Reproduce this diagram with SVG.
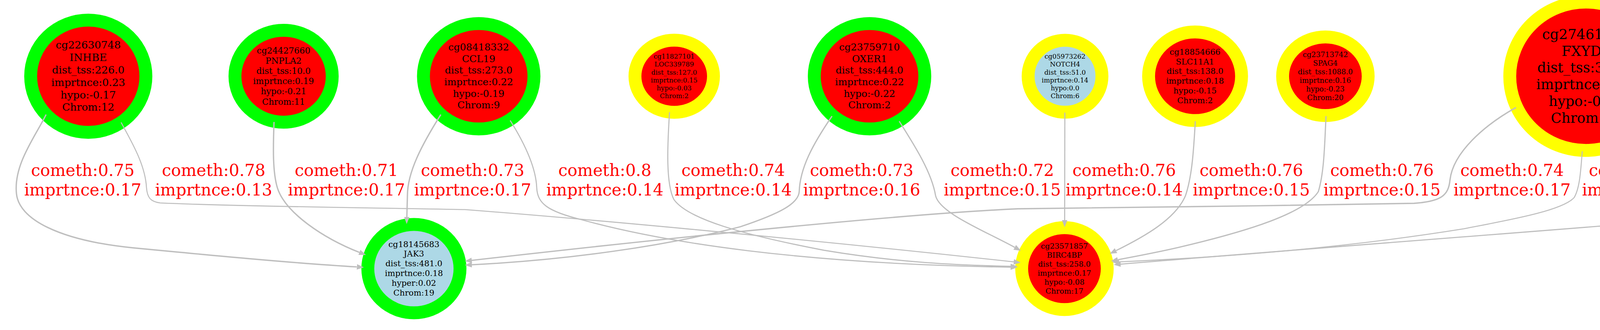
<svg xmlns="http://www.w3.org/2000/svg" width="5354" height="844" viewBox="0 0 5354 844">
<style>
.bg{fill:#ffffff}
.g{stroke:#00ff00;stroke-width:33}
.y{stroke:#ffff00;stroke-width:33}
.r{fill:#ff0000}
.b{fill:#add8e6}
.nt{font-family:"DejaVu Serif","Liberation Serif",serif;text-anchor:middle;fill:#000000}
.e{fill:none;stroke:#bebebe;marker-end:url(#arr)}
.el{font-family:"DejaVu Serif","Liberation Serif",serif;font-size:42px;text-anchor:middle;fill:#ff0000}
</style>
<defs>
<marker id="arr" markerUnits="userSpaceOnUse" viewBox="0 0 18 14" markerWidth="18" markerHeight="14" refX="0" refY="7" orient="auto">
<path d="M0,0 L18,7 L0,14 z" fill="#bebebe"/>
</marker>
</defs>
<rect class="bg" x="0" y="0" width="5354" height="844"/>
<g id="nodes">
<g id="cg22630748">
<ellipse class="g r" cx="226" cy="195" rx="147.5" ry="143.5"/>
<text class="nt" font-size="26.5"><tspan x="226" y="124.3">cg22630748</tspan><tspan x="226" y="156.1">INHBE</tspan><tspan x="226" y="187.9">dist_tss:226.0</tspan><tspan x="226" y="219.7">imprtnce:0.23</tspan><tspan x="226" y="251.5">hypo:-0.17</tspan><tspan x="226" y="283.3">Chrom:12</tspan></text>
</g>
<g id="cg24427660">
<ellipse class="g r" cx="726" cy="195" rx="124.5" ry="117.5"/>
<text class="nt" font-size="21.8"><tspan x="726" y="136.8">cg24427660</tspan><tspan x="726" y="163">PNPLA2</tspan><tspan x="726" y="189.1">dist_tss:10.0</tspan><tspan x="726" y="215.3">imprtnce:0.19</tspan><tspan x="726" y="241.4">hypo:-0.21</tspan><tspan x="726" y="267.6">Chrom:11</tspan></text>
</g>
<g id="cg08418332">
<ellipse class="g r" cx="1225.5" cy="195" rx="141.5" ry="134.8"/>
<text class="nt" font-size="24.7"><tspan x="1225.5" y="129.1">cg08418332</tspan><tspan x="1225.5" y="158.7">CCL19</tspan><tspan x="1225.5" y="188.3">dist_tss:273.0</tspan><tspan x="1225.5" y="218">imprtnce:0.22</tspan><tspan x="1225.5" y="247.6">hypo:-0.19</tspan><tspan x="1225.5" y="277.3">Chrom:9</tspan></text>
</g>
<g id="cg11827101">
<ellipse class="y r" cx="1726" cy="195" rx="100.5" ry="92.3"/>
<text class="nt" font-size="16.7"><tspan x="1726" y="150.4">cg11827101</tspan><tspan x="1726" y="170.4">LOC339789</tspan><tspan x="1726" y="190.5">dist_tss:127.0</tspan><tspan x="1726" y="210.5">imprtnce:0.15</tspan><tspan x="1726" y="230.6">hypo:-0.03</tspan><tspan x="1726" y="250.6">Chrom:2</tspan></text>
</g>
<g id="cg23759710">
<ellipse class="g r" cx="2226" cy="195" rx="141.5" ry="134.8"/>
<text class="nt" font-size="24.7"><tspan x="2226" y="129.1">cg23759710</tspan><tspan x="2226" y="158.7">OXER1</tspan><tspan x="2226" y="188.3">dist_tss:444.0</tspan><tspan x="2226" y="218">imprtnce:0.22</tspan><tspan x="2226" y="247.6">hypo:-0.22</tspan><tspan x="2226" y="277.3">Chrom:2</tspan></text>
</g>
<g id="cg05973262">
<ellipse class="y b" cx="2726.5" cy="195" rx="94.5" ry="92"/>
<text class="nt" font-size="16.7"><tspan x="2726.5" y="150.4">cg05973262</tspan><tspan x="2726.5" y="170.4">NOTCH4</tspan><tspan x="2726.5" y="190.5">dist_tss:51.0</tspan><tspan x="2726.5" y="210.5">imprtnce:0.14</tspan><tspan x="2726.5" y="230.6">hypo:0.0</tspan><tspan x="2726.5" y="250.6">Chrom:6</tspan></text>
</g>
<g id="cg18854666">
<ellipse class="y r" cx="3059.4" cy="195" rx="119" ry="113.3"/>
<text class="nt" font-size="20.7"><tspan x="3059.4" y="139.7">cg18854666</tspan><tspan x="3059.4" y="164.6">SLC11A1</tspan><tspan x="3059.4" y="189.4">dist_tss:138.0</tspan><tspan x="3059.4" y="214.3">imprtnce:0.18</tspan><tspan x="3059.4" y="239.1">hypo:-0.15</tspan><tspan x="3059.4" y="263.9">Chrom:2</tspan></text>
</g>
<g id="cg23713742">
<ellipse class="y r" cx="3393" cy="195" rx="109.5" ry="100.5"/>
<text class="nt" font-size="18.4"><tspan x="3393" y="145.9">cg23713742</tspan><tspan x="3393" y="168">SPAG4</tspan><tspan x="3393" y="190">dist_tss:1088.0</tspan><tspan x="3393" y="212.1">imprtnce:0.16</tspan><tspan x="3393" y="234.2">hypo:-0.23</tspan><tspan x="3393" y="256.3">Chrom:20</tspan></text>
</g>
<g id="cg27461196">
<ellipse class="y r" cx="4060" cy="195" rx="195" ry="189.7"/>
<text class="nt" font-size="35.6"><tspan x="4060" y="100">cg27461196</tspan><tspan x="4060" y="142.7">FXYD1</tspan><tspan x="4060" y="185.4">dist_tss:374.0</tspan><tspan x="4060" y="228.1">imprtnce:0.32</tspan><tspan x="4060" y="270.8">hypo:-0.13</tspan><tspan x="4060" y="313.6">Chrom:19</tspan></text>
</g>
<g id="cg09076584">
<ellipse class="y b" cx="4895" cy="195" rx="196.4" ry="189.7"/>
<text class="nt" font-size="35.6"><tspan x="4895" y="100">cg09076584</tspan><tspan x="4895" y="142.7">FLJ25006</tspan><tspan x="4895" y="185.4">dist_tss:42.0</tspan><tspan x="4895" y="228.1">imprtnce:0.31</tspan><tspan x="4895" y="270.8">hyper:0.14</tspan><tspan x="4895" y="313.6">Chrom:17</tspan></text>
</g>
<g id="cg18145683">
<ellipse class="g b" cx="1059.6" cy="687" rx="118" ry="113"/>
<text class="nt" font-size="20.8"><tspan x="1059.6" y="631.5">cg18145683</tspan><tspan x="1059.6" y="656.4">JAK3</tspan><tspan x="1059.6" y="681.4">dist_tss:481.0</tspan><tspan x="1059.6" y="706.3">imprtnce:0.18</tspan><tspan x="1059.6" y="731.3">hyper:0.02</tspan><tspan x="1059.6" y="756.3">Chrom:19</tspan></text>
</g>
<g id="cg23571857">
<ellipse class="y r" cx="2725" cy="687" rx="109.5" ry="104.8"/>
<text class="nt" font-size="19.2"><tspan x="2725" y="635.7">cg23571857</tspan><tspan x="2725" y="658.8">BIRC4BP</tspan><tspan x="2725" y="681.8">dist_tss:258.0</tspan><tspan x="2725" y="704.9">imprtnce:0.17</tspan><tspan x="2725" y="727.9">hypo:-0.08</tspan><tspan x="2725" y="750.9">Chrom:17</tspan></text>
</g>
<g id="cg20516209">
<ellipse class="y b" cx="4725.5" cy="687" rx="156.7" ry="151.8"/>
<text class="nt" font-size="28.3"><tspan x="4725.5" y="611.4">cg20516209</tspan><tspan x="4725.5" y="645.4">EMILIN1</tspan><tspan x="4725.5" y="679.4">dist_tss:9.0</tspan><tspan x="4725.5" y="713.3">imprtnce:0.25</tspan><tspan x="4725.5" y="747.3">hyper:0.05</tspan><tspan x="4725.5" y="781.2">Chrom:2</tspan></text>
</g>
</g>
<g id="connectors">
<path class="e" stroke-width="3.4" d="M118,293 C90,350 35,420 42,494 C47,560 150,615 342,634 C530,652 750,673 913.6,682.6"/>
<text class="el"><tspan x="212" y="450">cometh:0.75</tspan><tspan x="212" y="500">imprtnce:0.17</tspan></text>
<path class="e" stroke-width="2.6" d="M310,313 C335,360 372,420 375,480 C377,505 385,516 410,519 C600,528 1000,532 1190,536 C1450,556 2000,605 2595,669.7"/>
<text class="el"><tspan x="547" y="450">cometh:0.78</tspan><tspan x="547" y="500">imprtnce:0.13</tspan></text>
<path class="e" stroke-width="3.4" d="M701.5,312 C699,380 698,440 710,480 C730,545 830,610 920,645.5"/>
<text class="el"><tspan x="887" y="450">cometh:0.71</tspan><tspan x="887" y="500">imprtnce:0.17</tspan></text>
<path class="e" stroke-width="3.4" d="M1128.5,293 C1080,370 1043,440 1043,500 L1041.5,555"/>
<text class="el"><tspan x="1210" y="450">cometh:0.73</tspan><tspan x="1210" y="500">imprtnce:0.17</tspan></text>
<path class="e" stroke-width="2.8" d="M1306,308 C1345,370 1372,430 1374,480 C1376,520 1400,540 1489,562 C1700,620 2050,675 2587,683.3"/>
<text class="el"><tspan x="1548.5" y="450">cometh:0.8</tspan><tspan x="1548.5" y="500">imprtnce:0.14</tspan></text>
<path class="e" stroke-width="2.8" d="M1714,287 C1708,380 1705,470 1725,510 C1760,560 1900,600 2109,640 C2300,672 2450,678 2587,681.2"/>
<text class="el"><tspan x="1877" y="450">cometh:0.74</tspan><tspan x="1877" y="500">imprtnce:0.14</tspan></text>
<path class="e" stroke-width="3.2" d="M2130,297 C2080,370 2048,430 2046,490 C2044,520 2000,545 1895,580 C1700,630 1450,665 1208,677.1"/>
<text class="el"><tspan x="2206" y="450">cometh:0.73</tspan><tspan x="2206" y="500">imprtnce:0.16</tspan></text>
<path class="e" stroke-width="3" d="M2302,310 C2340,370 2385,440 2395,500 C2405,545 2520,590 2597.7,632.6"/>
<text class="el"><tspan x="2566" y="450">cometh:0.72</tspan><tspan x="2566" y="500">imprtnce:0.15</tspan></text>
<path class="e" stroke-width="2.8" d="M2726,288 L2725.5,563"/>
<text class="el"><tspan x="2878" y="450">cometh:0.76</tspan><tspan x="2878" y="500">imprtnce:0.14</tspan></text>
<path class="e" stroke-width="3" d="M3060,310 C3056,380 3052,450 3035,500 C3010,560 2930,605 2857,641"/>
<text class="el"><tspan x="3203.5" y="450">cometh:0.76</tspan><tspan x="3203.5" y="500">imprtnce:0.15</tspan></text>
<path class="e" stroke-width="3" d="M3394.6,297 C3391,370 3390,440 3375,490 C3340,545 3200,590 3016,633 C2960,646 2910,655 2861.6,664.4"/>
<text class="el"><tspan x="3538" y="450">cometh:0.76</tspan><tspan x="3538" y="500">imprtnce:0.15</tspan></text>
<path class="e" stroke-width="3.4" d="M3881,275 C3800,320 3720,390 3712,460 C3708,500 3690,515 3620,520 C3300,527 2800,530 2605,534 C2300,548 1700,610 1207.9,665.9"/>
<text class="el"><tspan x="3871" y="450">cometh:0.74</tspan><tspan x="3871" y="500">imprtnce:0.17</tspan></text>
<path class="e" stroke-width="2.6" d="M4050.6,387 C4047,430 4045,480 4030,505 C4000,540 3850,565 3748,585 C3500,625 3200,655 2865,669.7"/>
<text class="el"><tspan x="4200" y="450">cometh:0.75</tspan><tspan x="4200" y="500">imprtnce:0.13</tspan></text>
<path class="e" stroke-width="4.8" d="M4231.5,286.7 C4300,340 4365,400 4374,470 C4385,530 4470,590 4556.9,628.6"/>
<text class="el"><tspan x="4543" y="450">cometh:0.72</tspan><tspan x="4543" y="500">imprtnce:0.24</tspan></text>
<path class="e" stroke-width="2.8" d="M4765.5,340 C4735,390 4716,440 4714,485 C4712,510 4690,522 4530,540 C4300,566 3600,615 2869,675.6"/>
<text class="el"><tspan x="4872" y="450">cometh:0.74</tspan><tspan x="4872" y="500">imprtnce:0.14</tspan></text>
<path class="e" stroke-width="4.8" d="M5017,345 C5035,390 5042,440 5040,480 C5036,540 4960,590 4893.7,624.3"/>
<text class="el"><tspan x="5197" y="450">cometh:0.75</tspan><tspan x="5197" y="500">imprtnce:0.24</tspan></text>
</g>
</svg>
